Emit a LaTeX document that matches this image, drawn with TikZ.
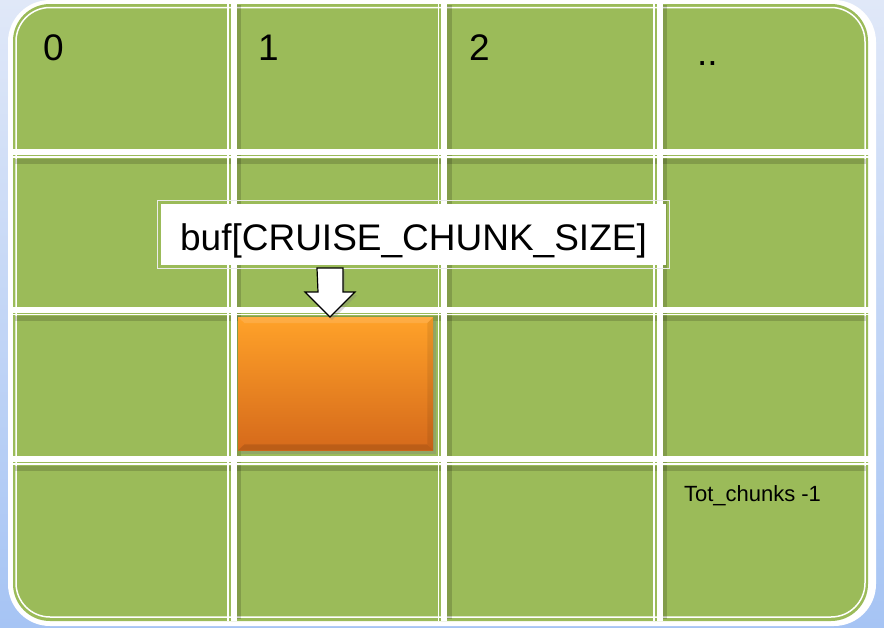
\documentclass[tikz,border=0pt]{standalone}
\usepackage{fontspec}
\setmainfont{Liberation Sans}
\usetikzlibrary{shadows}
\definecolor{bgtop}{HTML}{E0E8F8}
\definecolor{bgbot}{HTML}{A6C4F4}
\definecolor{grn}{HTML}{9BBB59}
\definecolor{orgt}{HTML}{FFA229}
\definecolor{orgb}{HTML}{D5691B}
\tikzset{
  gthick/.style={white, line width=6},
  gthin/.style={white, line width=1.5},
  gshadow/.style={black, opacity=0.16, line width=5},
  lab/.style={anchor=base west, inner sep=0, outer sep=0, font=\fontsize{37}{40}\selectfont},
  smalllab/.style={anchor=base west, inner sep=0, outer sep=0, font=\fontsize{22}{24}\selectfont},
  chunk/.style={anchor=north west, draw=none, inner sep=0, top color=orgt, bottom color=orgb,
    drop shadow={shadow xshift=3pt, shadow yshift=-4pt, opacity=0.35}},
  labelbox/.style={fill=white, inner sep=0, minimum width=505, minimum height=61},
  blockarrow/.style={draw=black, fill=white, line width=1.2, line join=miter,
    drop shadow={shadow xshift=2pt, shadow yshift=-3pt, opacity=0.3}}
}
\begin{document}
\begin{tikzpicture}[x=1pt,y=-1pt]
\shade[top color=bgtop, bottom color=bgbot] (0,0) rectangle (884,627);
\useasboundingbox (0,0) rectangle (884,627);
% frame
\fill[white, rounded corners=42] (8,0) rectangle (876,626);
\fill[grn, rounded corners=37] (13,4) rectangle (868,621);
\draw[white, line width=1.5, rounded corners=34] (16,7.5) rectangle (865,617);
% grid shadows
\foreach \x in {233.5,444,659.5} \draw[gshadow] (\x+5,5) -- (\x+5,619);
\foreach \y in {152,309.5,459} \draw[gshadow] (15,\y+9) -- (866,\y+9);
% vertical grid lines
\foreach \x in {233.5,444,659.5} {
  \draw[gthick] (\x,2) -- (\x,621);
  \draw[gthin] (\x-5.5,2) -- (\x-5.5,621);
}
% horizontal grid lines
\foreach \y in {152,309.5,459} {
  \draw[gthick] (13,\y) -- (872,\y);
  \draw[gthin] (13,\y+5) -- (872,\y+5);
}
% orange chunk
\node[chunk, minimum width=195, minimum height=133] (buf) at (238,317) {};
\fill[black, opacity=0.12] (buf.south west) -- (buf.south east) -- ++(-6,-6) -- ++(-183,0) -- cycle;
\fill[black, opacity=0.08] (buf.south east) -- (buf.north east) -- ++(-6,6) -- ++(0,121) -- cycle;
\fill[white, opacity=0.12] (buf.north west) -- (buf.north east) -- ++(-6,6) -- ++(-183,0) -- cycle;
% label box
\node[labelbox] (lbl) at (413.5,234.5) {};
\draw[white!92!black, line width=1.2] ([shift={(-3,-3)}]lbl.north west) rectangle ([shift={(3,3)}]lbl.south east);
\node[anchor=base, inner sep=0, font=\fontsize{37}{40}\selectfont] (lbltext) at (413.5,250) {buf[CRUISE\_CHUNK\_SIZE]};
% block arrow
\coordinate (arrTop) at (330,268);
\coordinate (arrTip) at (buf.north -| arrTop);
\draw[blockarrow] (arrTop) ++(-13,0) -- ++(26,0) -- ++(0,24) -- ++(12,0) -- (arrTip) -- ++(-25,-25) -- ++(13,0) -- cycle;
% labels
\node[lab] (n0) at (43,60) {0};
\node[lab] (n1) at (258,60) {1};
\node[lab] (n2) at (469,60) {2};
\node[lab] (ndots) at (697,65) {..};
\node[smalllab] (tot) at (684,501) {Tot\_chunks -1};
\end{tikzpicture}
\end{document}
